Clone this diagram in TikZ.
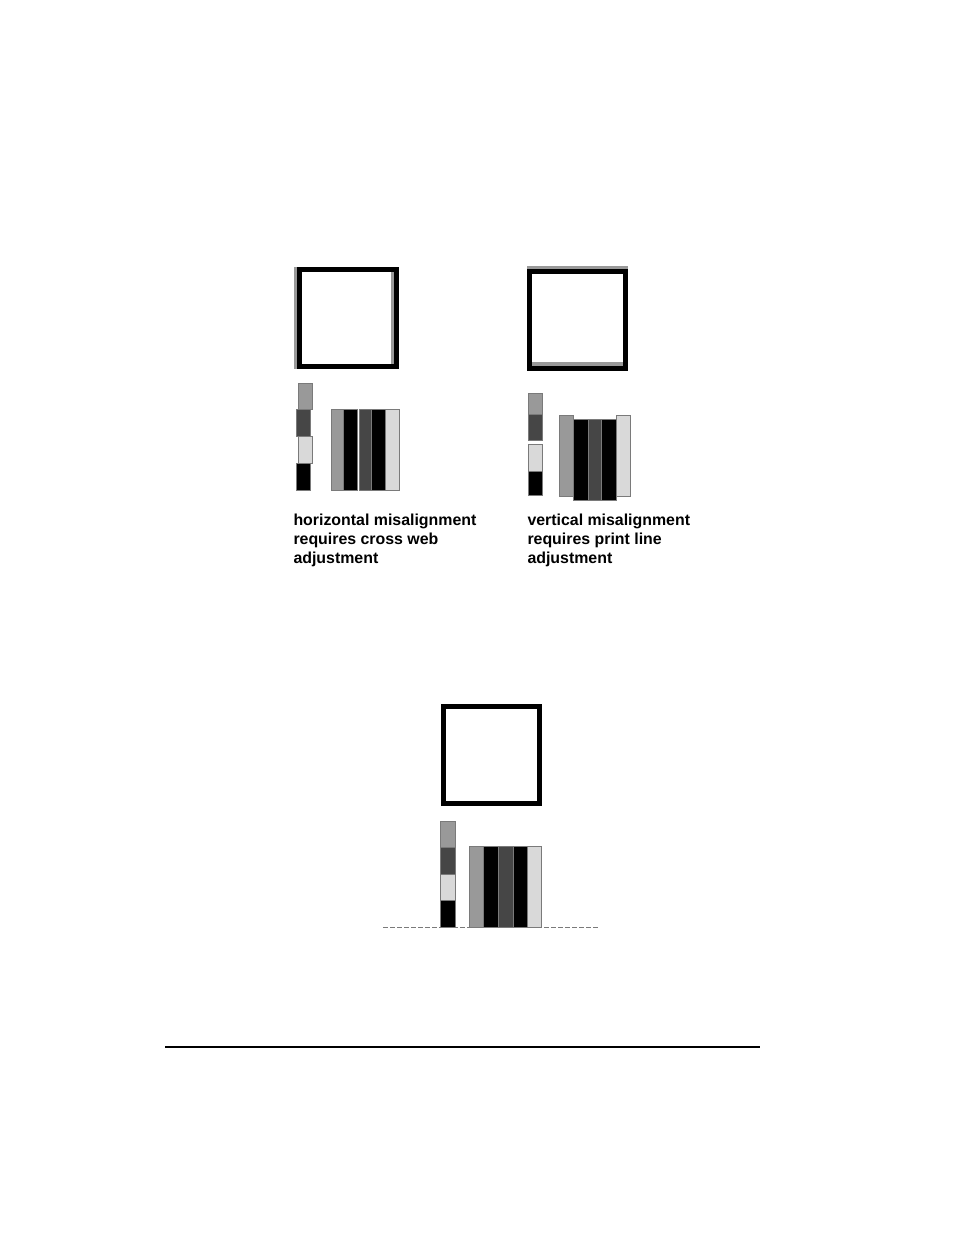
\documentclass[tikz,border=0pt]{standalone}
\usepackage{fontspec}
\setmainfont{Liberation Sans}
\definecolor{inkgray}{HTML}{999999}
\definecolor{inkdark}{HTML}{464646}
\definecolor{inklight}{HTML}{D9D9D9}
\definecolor{edgegray}{HTML}{7A7A7A}
\tikzset{
  regbox/.style={draw=black, line width=5pt},
  ghostbox/.style={draw=inkgray, line width=5pt},
  bar/.style={draw=edgegray, line width=0.8pt},
  caption/.style={anchor=base west, align=left, inner sep=0pt,
    font=\bfseries\fontsize{15.9}{19}\selectfont}
}

\begin{document}
\begin{tikzpicture}[x=1pt, y=-1pt]

\useasboundingbox (0,0) rectangle (954,1235);

% Horizontal misalignment
\draw[ghostbox] (296.3,269.8) rectangle (393,366.2);
\draw[regbox] (299.8,269.8) rectangle (396.5,366.2);

\foreach \y/\h/\c in {383.3/409.7/inkgray, 436.7/463.3/inklight}
\fill[bar, fill=\c] (298.3,\y) rectangle (312.3,\h);
\foreach \y/\h/\c in {409.7/436.7/inkdark, 463.3/490/black}
\fill[bar, fill=\c] (296,\y) rectangle (310.3,\h);

\foreach \x/\w/\c in {331/345/inkgray, 359/373/inkdark, 385.5/399.3/inklight}
\fill[bar, fill=\c] (\x,409) rectangle (\w,490);
\foreach \x in {343,371}
\fill[bar, fill=black] (\x,409) rectangle (\x+14,490);

% (base of a multi-line node is its last line)
\node[caption] (hcap) at (293.3,563.5)
  {horizontal misalignment\\requires cross web\\adjustment};

% Vertical misalignment
\draw[ghostbox] (529.8,268.5) rectangle (625.8,364.9);
\draw[regbox] (529.8,271.8) rectangle (625.8,368.2);

\foreach \y/\h/\c in {393.3/414/inkgray, 414/440.7/inkdark, 444.3/471/inklight, 471/495/black}
\fill[bar, fill=\c] (528.3,\y) rectangle (542.3,\h);

\foreach \x/\w/\c in {559.3/573.3/inkgray, 616/630/inklight}
\fill[bar, fill=\c] (\x,415.7) rectangle (\w,496);
\foreach \x/\w/\c in {573.3/588.3/black, 588.3/601.7/inkdark, 601.7/616/black}
\fill[bar, fill=\c] (\x,419.3) rectangle (\w,500);

\node[caption] (vcap) at (527.3,563.5)
  {vertical misalignment\\requires print line\\adjustment};

% Registered
\draw[regbox] (443.2,706.5) rectangle (539.2,803.5);

\coordinate (dashl) at (383,927.3);
\coordinate (dashr) at (598,927.3);
\draw[edgegray, line width=0.9pt, dash pattern=on 4.5pt off 2.5pt] (dashl) -- (dashr);

\foreach \y/\h/\c in {821/847.3/inkgray, 847.3/874.3/inkdark, 874.3/900.7/inklight, 900.7/927.3/black}
\fill[bar, fill=\c] (440.7,\y) rectangle (455,\h);

\foreach \x/\w/\c in {469.3/483.7/inkgray, 483.7/498.3/black, 498.3/513/inkdark, 513/527.7/black, 527.7/541.7/inklight}
\fill[bar, fill=\c] (\x,846.7) rectangle (\w,927.3);

% Rule
\coordinate (rulel) at (165,1047);
\coordinate (ruler) at (760,1047);
\draw[line width=1.3pt] (rulel) -- (ruler);

\end{tikzpicture}
\end{document}
